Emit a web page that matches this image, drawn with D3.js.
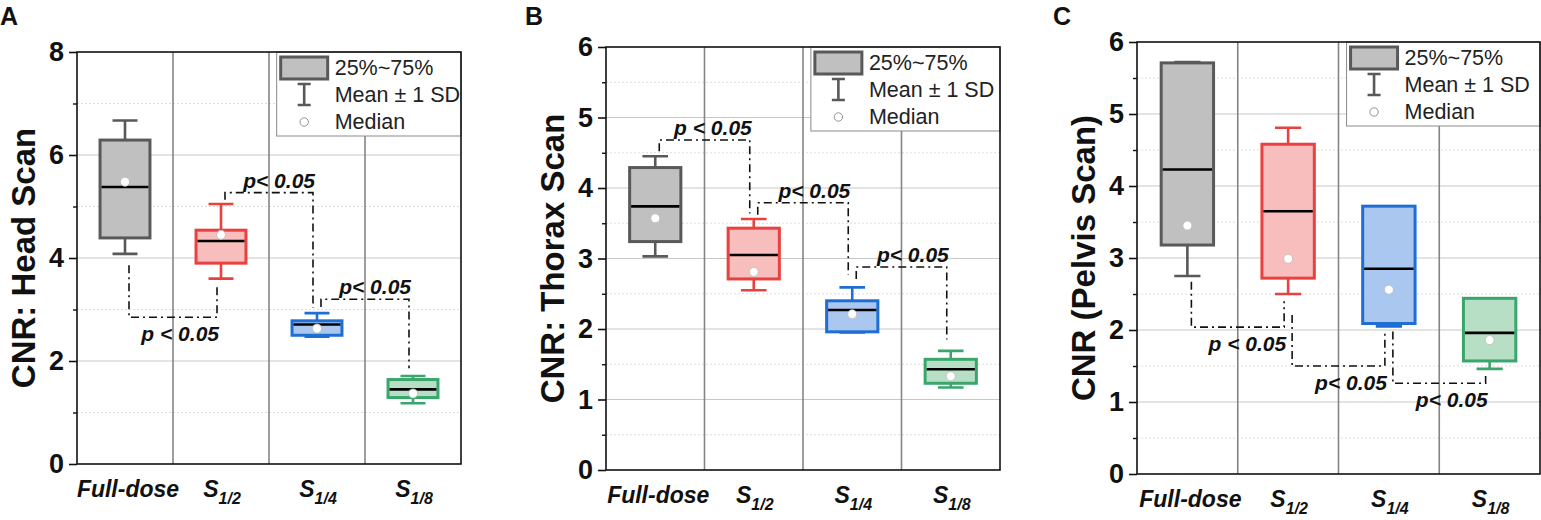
<!DOCTYPE html>
<html>
<head>
<meta charset="utf-8">
<script src="https://cdn.jsdelivr.net/npm/d3@7"></script>
<style>
  body { margin: 0; background: #fff; }
  svg { font-family: Arial, "Liberation Sans", sans-serif; }
</style>
</head>
<body>
<svg id="chart" width="1541" height="520"></svg>
<script>
// groups on the x axis ("_" marks the subscript part)
const categories = ["Full-dose", "S_1/2", "S_1/4", "S_1/8"];

// A: head scan
const headQ1 = [4.39, 3.90, 2.50, 1.29];
const headQ3 = [6.29, 4.54, 2.78, 1.64];
const headLine = [5.38, 4.33, 2.71, 1.45];
const headMedian = [5.48, 4.45, 2.63, 1.37];
const headSdLow = [4.08, 3.60, 2.47, 1.18];
const headSdHigh = [6.67, 5.05, 2.93, 1.71];
const headTicks = [0, 2, 4, 6, 8];
// [from, to, start value, bar value, end value, label]
const headBrackets = [
  [0, 1, 3.86, 2.85, 3.48, "p < 0.05"],
  [1, 2, 5.13, 5.27, 3.03, "p< 0.05"],
  [2, 3, 3.05, 3.20, 1.86, "p< 0.05"]
];

// B: thorax scan
const thoraxQ1 = [3.24, 2.71, 1.96, 1.23];
const thoraxQ3 = [4.29, 3.43, 2.40, 1.57];
const thoraxLine = [3.74, 3.05, 2.27, 1.43];
const thoraxMedian = [3.57, 2.81, 2.21, 1.33];
const thoraxSdLow = [3.03, 2.55, 1.95, 1.17];
const thoraxSdHigh = [4.45, 3.56, 2.59, 1.69];
const thoraxTicks = [0, 1, 2, 3, 4, 5, 6];
const thoraxBrackets = [
  [0, 1, 4.52, 4.68, 3.64, "p < 0.05"],
  [1, 2, 3.62, 3.79, 2.77, "p< 0.05"],
  [2, 3, 2.71, 2.88, 1.85, "p< 0.05"]
];

// C: pelvis scan
const pelvisQ1 = [3.18, 2.72, 2.09, 1.57];
const pelvisQ3 = [5.71, 4.58, 3.72, 2.44];
const pelvisLine = [4.23, 3.65, 2.85, 1.96];
const pelvisMedian = [3.45, 2.99, 2.56, 1.86];
const pelvisSdLow = [2.75, 2.50, 2.05, 1.46];
const pelvisSdHigh = [5.72, 4.81, 3.64, 2.44];
const pelvisTicks = [0, 1, 2, 3, 4, 5, 6];
const pelvisBrackets = [
  [0, 1, 2.67, 2.04, 2.40, "p < 0.05"],
  [1, 2, 2.21, 1.50, 1.98, "p< 0.05"],
  [2, 3, 1.98, 1.26, 1.36, "p< 0.05"]
];

const legendLabels = ["25%~75%", "Mean \u00b1 1 SD", "Median"];

const strokeColors = ["#595959", "#e8413f", "#1f6ed4", "#3aa66b"];
const fillColors = ["#c0c0c0", "#f8bdbd", "#aac7f0", "#b6dfc6"];

const svg = d3.select("#chart");

function drawPanel(p) {
  let g = svg.append("g");
  let x = d3.scaleBand().domain(d3.range(categories.length)).range([p.left, p.right]);
  let y = d3.scaleLinear().domain([0, p.ticks[p.ticks.length - 1]]).range([p.bottom, p.top]);
  let bw = x.bandwidth() * 0.52;
  let cx = i => x(i) + x.bandwidth() / 2;

  // minor grid (half way between major ticks) and major grid
  let step = p.ticks[1] - p.ticks[0];
  let minors = p.ticks.slice(0, -1).map(t => t + step / 2);
  g.selectAll(".minor").data(minors).join("line")
    .attr("x1", p.left).attr("x2", p.right)
    .attr("y1", d => y(d)).attr("y2", d => y(d))
    .attr("stroke", "#dcdcdc").attr("stroke-width", 1).attr("stroke-dasharray", "2,2");
  g.selectAll(".major").data(p.ticks.slice(1, -1)).join("line")
    .attr("x1", p.left).attr("x2", p.right)
    .attr("y1", d => y(d)).attr("y2", d => y(d))
    .attr("stroke", "#c8c8c8").attr("stroke-width", 1);

  // separators between groups
  g.selectAll(".sep").data(d3.range(1, categories.length)).join("line")
    .attr("x1", d => x(d)).attr("x2", d => x(d))
    .attr("y1", p.top).attr("y2", p.bottom)
    .attr("stroke", "#858585").attr("stroke-width", 1.6);

  // legend (white box in the top right corner)
  let lw = (p.right - p.left) * 0.48, lx = p.right - lw, ly = p.top;
  let lg = g.append("g");
  lg.append("rect").attr("x", lx).attr("y", ly).attr("width", lw).attr("height", 84)
    .attr("fill", "#fff").attr("stroke", "#8a8a8a").attr("stroke-width", 1);
  lg.append("rect").attr("x", lx + 4).attr("y", ly + 5).attr("width", 47).attr("height", 22)
    .attr("fill", fillColors[0]).attr("stroke", strokeColors[0]).attr("stroke-width", 3);
  lg.append("path")
    .attr("d", `M${lx + 21},${ly + 32}h13M${lx + 27.5},${ly + 32}V${ly + 53}M${lx + 21},${ly + 53}h13`)
    .attr("stroke", strokeColors[0]).attr("stroke-width", 2.6).attr("fill", "none");
  lg.append("circle").attr("cx", lx + 27.5).attr("cy", ly + 70).attr("r", 4.2)
    .attr("fill", "#fff").attr("stroke", "#888").attr("stroke-width", 0.9);
  lg.selectAll("text").data(legendLabels).join("text")
    .attr("x", lx + 58).attr("y", (d, i) => ly + [23, 49.5, 77][i])
    .attr("font-size", 21.5).attr("fill", "#222").text(d => d);

  // whiskers (mean +- 1 SD)
  let wh = g.append("g");
  categories.forEach((c, i) => {
    let cw = bw / 2;
    wh.append("path")
      .attr("d", `M${cx(i)},${y(p.q3[i])}V${y(p.sdHigh[i])}M${cx(i) - cw / 2},${y(p.sdHigh[i])}h${cw}` +
                 `M${cx(i)},${y(p.q1[i])}V${y(p.sdLow[i])}M${cx(i) - cw / 2},${y(p.sdLow[i])}h${cw}`)
      .attr("stroke", strokeColors[i]).attr("stroke-width", 2.6).attr("fill", "none");
  });

  // boxes
  g.selectAll(".box").data(categories).join("rect")
    .attr("x", (d, i) => cx(i) - bw / 2).attr("width", bw)
    .attr("y", (d, i) => y(p.q3[i])).attr("height", (d, i) => y(p.q1[i]) - y(p.q3[i]))
    .attr("fill", (d, i) => fillColors[i]).attr("stroke", (d, i) => strokeColors[i]).attr("stroke-width", 3);

  g.selectAll(".mid").data(p.line).join("line")
    .attr("x1", (d, i) => cx(i) - bw / 2 + 1.5).attr("x2", (d, i) => cx(i) + bw / 2 - 1.5)
    .attr("y1", d => y(d)).attr("y2", d => y(d))
    .attr("stroke", "#000").attr("stroke-width", 2.6);

  g.selectAll(".dot").data(p.median).join("circle")
    .attr("cx", (d, i) => cx(i)).attr("cy", d => y(d)).attr("r", 4.5)
    .attr("fill", "#fff").attr("stroke", "#bbb").attr("stroke-width", 0.8);

  // significance brackets
  p.brackets.forEach(b => {
    let x0 = cx(b[0]) + 4, x1 = cx(b[1]) - 4;
    g.append("path")
      .attr("d", `M${x0},${y(b[2])}V${y(b[3])}H${x1}V${y(b[4])}`)
      .attr("fill", "none").attr("stroke", "#111").attr("stroke-width", 1.6)
      .attr("stroke-dasharray", "8,4,2,4");
    let above = b[3] > Math.max(b[2], b[4]);
    g.append("text")
      .attr("x", x1 + 2).attr("y", above ? y(b[3]) - 5 : y(b[3]) + 24)
      .attr("text-anchor", "end").attr("font-size", 21)
      .attr("font-weight", "bold").attr("font-style", "italic").attr("fill", "#111")
      .text(b[5]);
  });

  // frame
  g.append("rect").attr("x", p.left).attr("y", p.top)
    .attr("width", p.right - p.left).attr("height", p.bottom - p.top)
    .attr("fill", "none").attr("stroke", "#111").attr("stroke-width", 1.6);

  // y axis: major ticks with labels, minor ticks without
  let ax = g.append("g").attr("transform", `translate(${p.left},0)`)
    .call(d3.axisLeft(y).tickValues(p.ticks).tickSize(8).tickPadding(5).tickFormat(d3.format("d")));
  ax.select(".domain").remove();
  ax.selectAll("line").attr("stroke", "#111").attr("stroke-width", 1.6);
  ax.selectAll("text").attr("font-size", 27).attr("font-weight", "bold").attr("fill", "#111")
    .attr("font-family", "Arial, 'Liberation Sans', sans-serif");
  let mx = g.append("g").attr("transform", `translate(${p.left},0)`)
    .call(d3.axisLeft(y).tickValues(minors).tickSize(4).tickFormat(""));
  mx.select(".domain").remove();
  mx.selectAll("line").attr("stroke", "#111").attr("stroke-width", 1.4);

  // x labels
  categories.forEach((c, i) => {
    let t = g.append("text")
      .attr("x", cx(i) + (i === 0 ? 3 : 1)).attr("y", p.bottom + 33)
      .attr("text-anchor", "middle").attr("font-weight", "bold").attr("font-style", "italic")
      .attr("fill", "#111").attr("font-size", 23);
    let parts = c.split("_");
    t.append("tspan").text(parts[0]);
    if (parts[1]) t.append("tspan").attr("font-size", 16).attr("dy", 7).text(parts[1]);
  });

  // y title
  g.append("text")
    .attr("transform", `translate(${p.left - 42},${(p.top + p.bottom) / 2}) rotate(-90)`)
    .attr("text-anchor", "middle").attr("font-size", 33).attr("font-weight", "bold").attr("fill", "#111")
    .text(p.title);

  // panel letter
  g.append("text").attr("x", p.letterX).attr("y", 25)
    .attr("font-size", 25).attr("font-weight", "bold").attr("fill", "#111").text(p.letter);
}

drawPanel({ left: 77, right: 461, top: 52, bottom: 464, ticks: headTicks, title: "CNR: Head Scan",
  letter: "A", letterX: 0, q1: headQ1, q3: headQ3, line: headLine, median: headMedian,
  sdLow: headSdLow, sdHigh: headSdHigh, brackets: headBrackets });
drawPanel({ left: 606, right: 1000, top: 47, bottom: 470, ticks: thoraxTicks, title: "CNR: Thorax Scan",
  letter: "B", letterX: 525, q1: thoraxQ1, q3: thoraxQ3, line: thoraxLine, median: thoraxMedian,
  sdLow: thoraxSdLow, sdHigh: thoraxSdHigh, brackets: thoraxBrackets });
drawPanel({ left: 1137, right: 1540, top: 42, bottom: 474, ticks: pelvisTicks, title: "CNR (Pelvis Scan)",
  letter: "C", letterX: 1053, q1: pelvisQ1, q3: pelvisQ3, line: pelvisLine, median: pelvisMedian,
  sdLow: pelvisSdLow, sdHigh: pelvisSdHigh, brackets: pelvisBrackets });
</script>
</body>
</html>
